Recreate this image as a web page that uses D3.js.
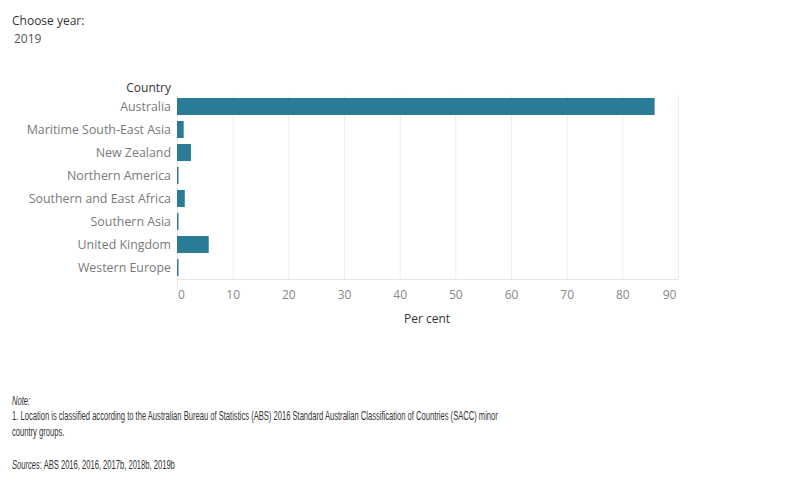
<!DOCTYPE html>
<html><head><meta charset="utf-8">
<script src="https://cdn.jsdelivr.net/npm/d3@7"></script>
<style>body{margin:0;background:#fff;} svg{display:block;}</style>
</head><body>
<svg id="c" width="800" height="500"></svg>
<script>
const countries = ["Australia","Maritime South-East Asia","New Zealand","Northern America","Southern and East Africa","Southern Asia","United Kingdom","Western Europe"];
const values = [85.8, 1.2, 2.5, 0.2, 1.4, 0.2, 5.7, 0.2];
const xTicks = [0,10,20,30,40,50,60,70,80,90];

(function(){
const svg = d3.select("#c");
const font = "'Open Sans', 'Noto Sans', sans-serif";
const mLeft = 177, mRight = 678, mTop = 95, mBottom = 279;

svg.append("text").attr("x",12).attr("y",25).attr("font-family",font).attr("font-size",12).attr("fill","#333").text("Choose year:");
svg.append("text").attr("x",14).attr("y",43).attr("font-family",font).attr("font-size",12).attr("fill","#555").text("2019");

const x = d3.scaleLinear().domain([0,90]).range([mLeft,mRight]);
const y = d3.scaleBand().domain(countries).range([mTop,mBottom]).paddingInner(0.26).paddingOuter(0.13);

// gridlines
svg.append("g").selectAll("line").data(xTicks.slice(1)).join("line")
  .attr("x1",d=>x(d)+0.5).attr("x2",d=>x(d)+0.5).attr("y1",mTop).attr("y2",mBottom)
  .attr("stroke","#ececec").attr("stroke-width",1);
svg.append("line").attr("x1",mLeft).attr("x2",mRight).attr("y1",mBottom+0.5).attr("y2",mBottom+0.5).attr("stroke","#e6e6e6");
svg.append("line").attr("x1",mLeft+0.5).attr("x2",mLeft+0.5).attr("y1",mTop).attr("y2",mBottom+10).attr("stroke","#e6e6e6");

// bars
svg.append("g").selectAll("rect").data(countries).join("rect")
  .attr("x",x(0)).attr("y",d=>y(d)).attr("height",y.bandwidth())
  .attr("width",(d,i)=>Math.max(1.5,x(values[i])-x(0)))
  .attr("fill","#2a7b96");

// y labels
const yAxis = d3.axisLeft(y).tickSize(0).tickPadding(6);
const gy = svg.append("g").attr("transform",`translate(${mLeft},1)`).call(yAxis);
gy.select(".domain").remove();
gy.selectAll("text").attr("font-family",font).attr("font-size",12.4).attr("fill","#7a7a7a");

svg.append("text").attr("x",171).attr("y",92).attr("text-anchor","end").attr("font-family",font).attr("font-size",12).attr("fill","#333").text("Country");

// x axis
const xAxis = d3.axisBottom(x).tickValues(xTicks).tickSize(0).tickPadding(11);
const gx = svg.append("g").attr("transform",`translate(0,${mBottom})`).call(xAxis);
gx.select(".domain").remove();
gx.selectAll("text").attr("font-family",font).attr("font-size",12).attr("fill","#888")
  .attr("dx",(d,i)=> i===0 ? 4 : (i===xTicks.length-1 ? -9 : 0));

svg.append("text").attr("x",427).attr("y",323).attr("text-anchor","middle").attr("font-family",font).attr("font-size",12).attr("fill","#333").text("Per cent");

// notes (condensed)
const nf = "'Liberation Sans', Arial, sans-serif";
const ng = svg.append("g").attr("transform","translate(12,0) scale(0.585,1)");
function note(yPos, parts){
  const t = ng.append("text").attr("x",0).attr("y",yPos).attr("font-family",nf).attr("font-size",13).attr("fill","#333");
  parts.forEach(p=>{ const ts=t.append("tspan").text(p[0]); if(p[1]) ts.attr("font-style","italic"); });
}
note(405, [["Note:",true]]);
note(420, [["1. Location is classified according to the Australian Bureau of Statistics (ABS) 2016 Standard Australian Classification of Countries (SACC) minor"]]);
note(436, [["country groups."]]);
note(469, [["Sources",true],[": ABS 2016,  2016,  2017b, 2018b, 2019b"]]);
})();
</script>
</body></html>
